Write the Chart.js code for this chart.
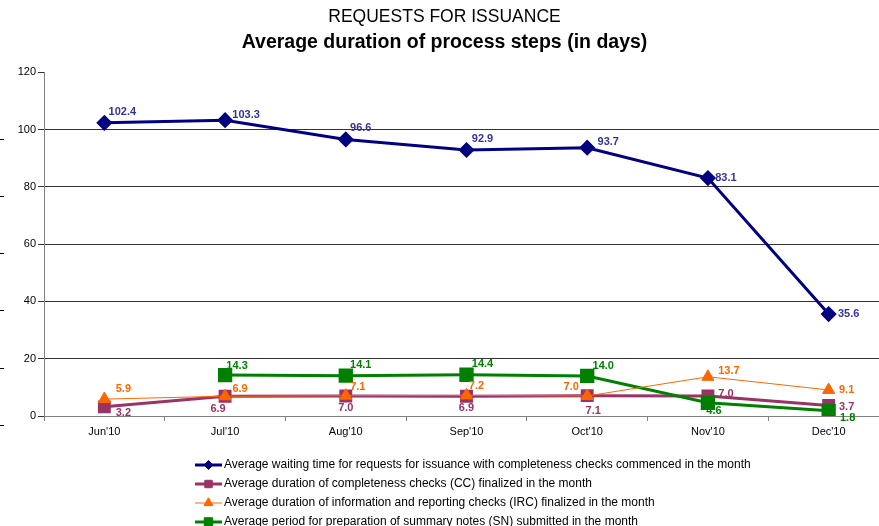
<!DOCTYPE html>
<html>
<head>
<meta charset="utf-8">
<script src="https://cdn.jsdelivr.net/npm/chart.js@4/dist/chart.umd.min.js"></script>
<style>
html,body{margin:0;padding:0;background:#fff;overflow:hidden;}
#wrap{width:879px;height:526px;position:relative;overflow:hidden;}
</style>
</head>
<body>
<div id="wrap"><canvas id="c" width="907" height="526"></canvas></div>
<script>
// ---- data ----
const categories = ["Jun'10","Jul'10","Aug'10","Sep'10","Oct'10","Nov'10","Dec'10"];
const waitingTime = [102.4, 103.3, 96.6, 92.9, 93.7, 83.1, 35.6];
const ccDuration  = [3.2, 6.9, 7.0, 6.9, 7.1, 7.0, 3.7];
const ircDuration = [5.9, 6.9, 7.1, 7.2, 7.0, 13.7, 9.1];
const snPeriod    = [null, 14.3, 14.1, 14.4, 14.0, 4.6, 1.8];
const seriesNames = [
  "Average waiting time for requests for issuance with completeness checks commenced in the month",
  "Average duration of completeness checks (CC) finalized in the month",
  "Average duration of information and reporting checks (IRC) finalized in the month",
  "Average period for preparation of summary notes (SN) submitted in the month"
];
const yTicks = [0, 20, 40, 60, 80, 100, 120];
const titleLine1 = "REQUESTS FOR ISSUANCE";
const titleLine2 = "Average duration of process steps (in days)";

// ---- label placement (pixel offsets of label centre from point) ----
const labelOffsets = [
  [[18,-11],[21,-5],[15,-11],[16,-11],[21,-6],[18,0],[20,0]],
  [[19,6],[-7,13],[0,12],[0,12],[6,15],[18,-2],[18,2]],
  [[19,-10],[15,-7],[12,-9],[10,-9],[-16,-9],[21,-6],[18,0]],
  [[0,0],[12,-9],[15,-11],[16,-11],[16,-10],[6,8],[19,7]]
];
const labelColors = ['#333399','#993366','#FF6600','#008000'];

const F = "'Liberation Sans', Arial, sans-serif";

const valueLabels = {
  id: 'valueLabels',
  afterDatasetsDraw(chart) {
    const ctx = chart.ctx;
    ctx.save();
    ctx.textAlign = 'center';
    ctx.textBaseline = 'middle';
    chart.data.datasets.forEach((ds, i) => {
      const meta = chart.getDatasetMeta(i);
      ctx.font = "bold 11px " + (i === 0 ? F : "'Liberation Sans Narrow', " + F);
      ctx.fillStyle = labelColors[i];
      meta.data.forEach((pt, j) => {
        const v = ds.data[j];
        if (v === null || v === undefined) return;
        const off = labelOffsets[i][j];
        ctx.fillText(v.toFixed(1), pt.x + off[0], pt.y + off[1]);
      });
    });
    ctx.restore();
  }
};

const customLegend = {
  id: 'customLegend',
  afterDraw(chart) {
    const ctx = chart.ctx;
    const x0 = 195, y0 = 465, rowH = 19, lineLen = 27;
    ctx.save();
    chart.data.datasets.forEach((ds, i) => {
      const y = y0 + i * rowH;
      ctx.strokeStyle = ds.borderColor;
      ctx.lineWidth = ds.borderWidth;
      ctx.beginPath();
      ctx.moveTo(x0, y);
      ctx.lineTo(x0 + lineLen, y);
      ctx.stroke();
      ctx.fillStyle = ds.backgroundColor;
      ctx.strokeStyle = ds.borderColor;
      ctx.lineWidth = 1;
      Chart.helpers.drawPoint(ctx, {pointStyle: ds.pointStyle, radius: ds.pointRadius * 0.75, rotation: 0, borderWidth: 1}, x0 + lineLen / 2, y);
      ctx.fillStyle = '#000';
      ctx.font = "12px " + F;
      ctx.textAlign = 'left';
      ctx.textBaseline = 'middle';
      ctx.fillText(ds.label, x0 + lineLen + 2, y);
    });
    ctx.restore();
  }
};

const leftMarks = {
  id: 'leftMarks',
  afterDraw(chart) {
    const ctx = chart.ctx, ys = chart.scales.y;
    ctx.save();
    ctx.strokeStyle = '#000';
    ctx.lineWidth = 1;
    yTicks.filter(v => v < 120).forEach(v => {
      const y = Math.round(ys.getPixelForValue(v)) + 9.5;
      ctx.beginPath(); ctx.moveTo(0, y); ctx.lineTo(4, y); ctx.stroke();
    });
    ctx.restore();
  }
};

new Chart(document.getElementById('c'), {
  type: 'line',
  data: {
    labels: categories,
    datasets: [
      {label: seriesNames[0], data: waitingTime, borderColor: '#000080', backgroundColor: '#000080', borderWidth: 3, pointStyle: 'rectRot', pointRadius: 6, pointHoverRadius: 6, order: 0},
      {label: seriesNames[1], data: ccDuration, borderColor: '#993366', backgroundColor: '#993366', borderWidth: 3, pointStyle: 'rect', pointRadius: 7, pointHoverRadius: 7, order: 3},
      {label: seriesNames[2], data: ircDuration, borderColor: '#FF6600', backgroundColor: '#FF6600', borderWidth: 1, pointStyle: 'triangle', pointRadius: 7, pointHoverRadius: 7, order: 1},
      {label: seriesNames[3], data: snPeriod, borderColor: '#008000', backgroundColor: '#008000', borderWidth: 3, pointStyle: 'rect', pointRadius: 8, pointHoverRadius: 8, order: 2}
    ]
  },
  options: {
    responsive: false,
    animation: false,
    events: [],
    layout: {padding: {left: 0, right: 18, top: 0, bottom: 0}},
    plugins: {
      legend: {display: false},
      tooltip: {enabled: false},
      title: {display: true, text: titleLine1, color: '#000', font: {family: F, size: 17.5, weight: 'normal', lineHeight: 1.2}, padding: {top: 7, bottom: 3}},
      subtitle: {display: true, text: titleLine2, color: '#000', font: {family: F, size: 19.5, weight: 'bold', lineHeight: 1.2}, padding: {top: 0, bottom: 18}}
    },
    scales: {
      x: {
        offset: true,
        grid: {offset: true, drawOnChartArea: false, drawTicks: true, tickLength: 5, color: '#808080'},
        border: {color: '#808080', width: 1},
        ticks: {color: '#000', font: {family: F, size: 11}, padding: 4, maxRotation: 0},
        afterFit(s) { s.height = 110; s.paddingLeft = 0; s.paddingRight = 0; }
      },
      y: {
        min: 0, max: 120,
        afterBuildTicks(s) { s.ticks = yTicks.map(v => ({value: v})); },
        grid: {
          color: c => (c.tick && (c.tick.value === 120 || c.tick.value === 0)) ? 'rgba(0,0,0,0)' : '#333',
          tickColor: '#333', tickLength: 6, lineWidth: 1
        },
        border: {color: '#808080', width: 1},
        ticks: {color: '#000', font: {family: F, size: 11}, padding: 2},
        afterFit(s) { s.width = 44; }
      }
    }
  },
  plugins: [valueLabels, customLegend, leftMarks]
});
</script>
</body>
</html>
